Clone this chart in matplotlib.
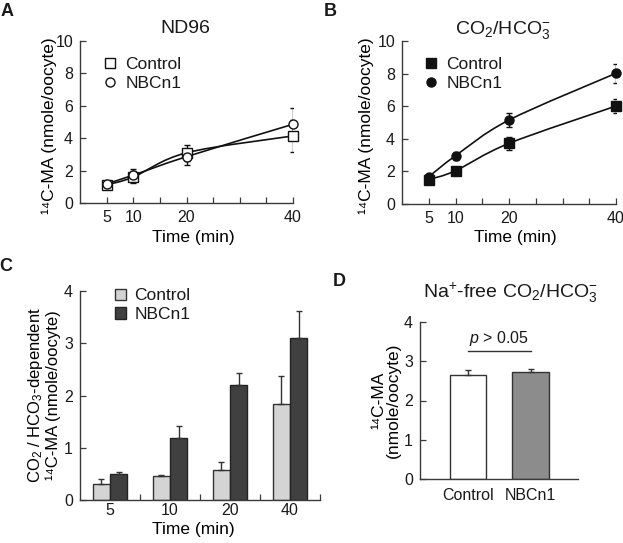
import numpy as np
import matplotlib
matplotlib.use("Agg")
import matplotlib.pyplot as plt
from matplotlib.path import Path
from matplotlib.patches import PathPatch
from matplotlib.ticker import FixedLocator

# ---------------- data ----------------
time_min = [5, 10, 20, 40]

# Panel A (ND96)
a_control = [1.12, 1.60, 3.10, 4.14]
a_control_err = [0.12, 0.35, 0.50, 0.97]
a_nbcn1 = [1.18, 1.72, 2.86, 4.86]
a_nbcn1_err = [0.12, 0.35, 0.50, 0.98]

# Panel B (CO2/HCO3-)
b_control = [1.50, 2.04, 3.72, 6.01]
b_control_err = [0.20, 0.22, 0.41, 0.42]
b_nbcn1 = [1.67, 2.96, 5.15, 8.02]
b_nbcn1_err = [0.20, 0.25, 0.45, 0.58]

# Panel C (CO2/HCO3-dependent)
c_labels = ["5", "10", "20", "40"]
c_control = [0.30, 0.46, 0.57, 1.83]
c_control_err = [0.11, 0.02, 0.15, 0.55]
c_nbcn1 = [0.50, 1.19, 2.21, 3.11]
c_nbcn1_err = [0.04, 0.22, 0.23, 0.50]

# Panel D (Na+-free)
d_labels = ["Control", "NBCn1"]
d_values = [2.64, 2.73]
d_err = [0.14, 0.07]
d_pvalue_text = r"$p$ > 0.05"

# ---------------- style ----------------
FONT = "Liberation Sans"
plt.rcParams["font.family"] = [FONT, "DejaVu Sans"]
plt.rcParams["mathtext.fontset"] = "custom"
plt.rcParams["mathtext.rm"] = FONT
plt.rcParams["mathtext.it"] = FONT + ":italic"
plt.rcParams["mathtext.bf"] = FONT + ":bold"
plt.rcParams["text.color"] = "#1a1a1a"

AXC = "#3a3a3a"
TICK_FS = 11.5
LAB_FS = 12.5
LEG_FS = 12.5
TITLE_FS = 14

W, H = 623, 543
fig = plt.figure(figsize=(W / 100, H / 100), dpi=100)


def px_axes(l, t, r, b):
    return fig.add_axes([l / W, 1 - b / H, (r - l) / W, (b - t) / H])


def style_axes(ax):
    for s in ("top", "right"):
        ax.spines[s].set_visible(False)
    for s in ("left", "bottom"):
        ax.spines[s].set_color(AXC)
        ax.spines[s].set_linewidth(1.0)
    ax.tick_params(axis="both", which="both", direction="in", color=AXC,
                   width=0.9, labelsize=TICK_FS, labelcolor="#1a1a1a")
    ax.tick_params(axis="both", which="major", length=4)
    ax.tick_params(axis="both", which="minor", length=4)
    ax.tick_params(axis="y", pad=5)


def smooth_path(x, y):
    pts = np.column_stack([np.asarray(x, float), np.asarray(y, float)])
    n = len(pts)
    verts = [pts[0]]
    codes = [Path.MOVETO]
    for i in range(n - 1):
        p0 = pts[max(i - 1, 0)]
        p1 = pts[i]
        p2 = pts[i + 1]
        p3 = pts[min(i + 2, n - 1)]
        c1 = p1 + (p2 - p0) / 6.0
        c2 = p2 - (p3 - p1) / 6.0
        verts += [c1, c2, p2]
        codes += [Path.CURVE4] * 3
    return Path(verts, codes)


YLABEL = "\u00b9\u2074C-MA (nmole/oocyte)"


def line_panel(ax, ctrl, ctrl_err, nb, nb_err, filled):
    for vals in (ctrl, nb):
        ax.add_patch(PathPatch(smooth_path(time_min, vals), fill=False,
                               edgecolor="#111111", lw=1.2, zorder=2))
    for vals, err in ((ctrl, ctrl_err), (nb, nb_err)):
        ax.errorbar(time_min, vals, yerr=err, fmt="none", ecolor="#111111",
                    elinewidth=1.0, capsize=2.5, capthick=1.0, zorder=3)
    fc = "#111111" if filled else "white"
    ax.plot(time_min, ctrl, linestyle="none", marker="s", ms=6.5,
            mfc=fc, mec="#111111", mew=1.0, zorder=4, label="Control", clip_on=False)
    ax.plot(time_min, nb, linestyle="none", marker="o", ms=6.5,
            mfc=fc, mec="#111111", mew=1.0, zorder=4, label="NBCn1", clip_on=False)
    ax.set_xlim(0, 40)
    ax.set_ylim(0, 10)
    ax.set_yticks([0, 2, 4, 6, 8, 10])
    ax.set_xticks(time_min)
    ax.xaxis.set_minor_locator(FixedLocator([15, 25, 30, 35]))
    ax.tick_params(axis="x", which="both", pad=5)
    ax.set_xlabel("Time (min)", fontsize=LAB_FS)
    ax.set_ylabel(YLABEL, fontsize=LAB_FS)


# ---------------- Panel A ----------------
axA = px_axes(80, 41, 293, 203)
style_axes(axA)
line_panel(axA, a_control, a_control_err, a_nbcn1, a_nbcn1_err, filled=False)
axA.xaxis.set_label_coords(0.53, -0.165)
axA.yaxis.set_label_coords(-0.11, 0.48)
axA.text(0.493, 1.08, "ND96", transform=axA.transAxes, ha="center",
         va="center", fontsize=TITLE_FS)
axA.legend(loc="upper left", bbox_to_anchor=(0.11, 0.9), frameon=False,
           fontsize=LEG_FS, handlelength=0.8, handletextpad=0.45,
           borderpad=0, borderaxespad=0, labelspacing=0.22)

# ---------------- Panel B ----------------
axB = px_axes(402, 41, 616, 204)
style_axes(axB)
line_panel(axB, b_control, b_control_err, b_nbcn1, b_nbcn1_err, filled=True)
axB.xaxis.set_label_coords(0.528, -0.16)
axB.yaxis.set_label_coords(-0.132, 0.48)
axB.text(0.472, 1.067, r"CO$_2$/HCO$_3^{-}$", transform=axB.transAxes,
         ha="center", va="center", fontsize=TITLE_FS)
axB.legend(loc="upper left", bbox_to_anchor=(0.105, 0.9), frameon=False,
           fontsize=LEG_FS, handlelength=0.8, handletextpad=0.45,
           borderpad=0, borderaxespad=0, labelspacing=0.22)

# ---------------- Panel C ----------------
axC = px_axes(80, 291, 320, 500)
style_axes(axC)
xc = np.arange(len(c_labels))
bw = 0.287
axC.bar(xc - bw / 2, c_control, width=bw, color="#d4d4d4", edgecolor="#333333",
        linewidth=1.0, label="Control", zorder=2)
axC.bar(xc + bw / 2, c_nbcn1, width=bw, color="#404040", edgecolor="#222222",
        linewidth=1.0, label="NBCn1", zorder=2)
axC.errorbar(xc - bw / 2, c_control, yerr=[np.zeros(len(xc)), c_control_err],
             fmt="none", ecolor="#333333", elinewidth=1.0, capsize=2.5,
             capthick=1.0, zorder=3)
axC.errorbar(xc + bw / 2, c_nbcn1, yerr=[np.zeros(len(xc)), c_nbcn1_err],
             fmt="none", ecolor="#333333", elinewidth=1.0, capsize=2.5,
             capthick=1.0, zorder=3)
axC.set_xlim(-0.5, 3.5)
axC.set_ylim(0, 4)
axC.set_yticks([0, 1, 2, 3, 4])
axC.set_xticks(xc)
axC.set_xticklabels(c_labels)
axC.xaxis.set_minor_locator(FixedLocator(list(xc + 0.5)))
axC.tick_params(axis="x", which="major", length=0, pad=2)
axC.set_xlabel("Time (min)", fontsize=LAB_FS)
axC.xaxis.set_label_coords(0.471, -0.105)
axC.set_ylabel("CO$_2$ / HCO$_3$-dependent\n\u00b9\u2074C-MA (nmole/oocyte)",
               fontsize=LAB_FS - 0.5, linespacing=1.0)
axC.yaxis.set_label_coords(-0.08, 0.5)
axC.legend(loc="upper left", bbox_to_anchor=(0.146, 1.012), frameon=False,
           fontsize=LEG_FS, handlelength=0.65, handleheight=0.65,
           handletextpad=0.45, borderpad=0, borderaxespad=0, labelspacing=0.2)

# ---------------- Panel D ----------------
axD = px_axes(420, 322, 578, 479)
style_axes(axD)
xd = np.arange(len(d_labels))
axD.bar(xd, d_values, width=0.587, color=["white", "#8c8c8c"],
        edgecolor="#333333", linewidth=1.0, zorder=2)
axD.errorbar(xd, d_values, yerr=[np.zeros(len(xd)), d_err], fmt="none",
             ecolor="#333333", elinewidth=1.0, capsize=2.5, capthick=1.0,
             zorder=3)
axD.set_xlim(-0.77, 1.76)
axD.set_ylim(0, 4)
axD.set_yticks([0, 1, 2, 3, 4])
axD.set_xticks(xd)
axD.set_xticklabels(d_labels)
axD.tick_params(axis="x", which="major", length=0, pad=6.5)
axD.set_ylabel("\u00b9\u2074C-MA\n(nmole/oocyte)", fontsize=LAB_FS,
               linespacing=1.0, multialignment="center")
axD.yaxis.set_label_coords(-0.12, 0.5)
sig_y = max(v + e for v, e in zip(d_values, d_err)) + 0.45
axD.plot([xd[0], xd[1]], [sig_y, sig_y], color="#333333", lw=1.0)
axD.text((xd[0] + xd[1]) / 2, sig_y + 0.1, d_pvalue_text, ha="center",
         va="bottom", fontsize=TICK_FS)
axD.text(0.57, 1.185, r"Na$^{+}$-free CO$_2$/HCO$_3^{-}$",
         transform=axD.transAxes, ha="center", va="center", fontsize=TITLE_FS)

# ---------------- Panel letters ----------------
for lab, (x, y) in {"A": (7, 12), "B": (330, 12), "C": (6, 266),
                    "D": (339, 281)}.items():
    fig.text(x / W, 1 - y / H, lab, ha="center", va="center", fontsize=13,
             fontweight="bold")

fig.savefig("out.png", dpi=100)
